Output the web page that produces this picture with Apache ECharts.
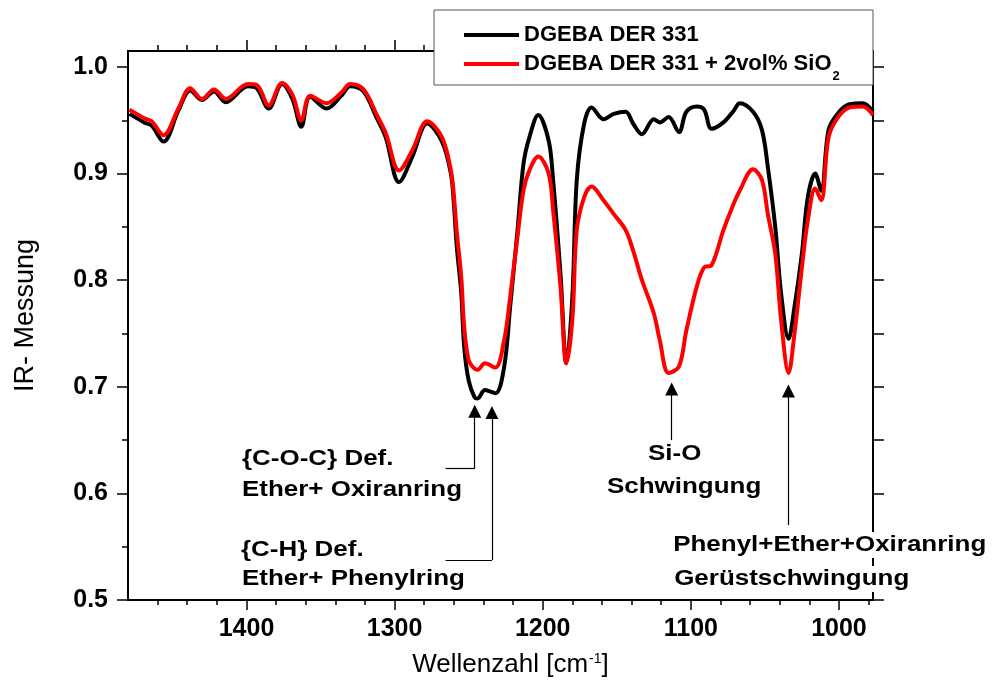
<!DOCTYPE html>
<html>
<head>
<meta charset="utf-8">
<script src="https://cdn.jsdelivr.net/npm/echarts@6/dist/echarts.min.js"></script>
<style>
  html, body { margin: 0; padding: 0; background: #fff; }
  #chart { width: 1001px; height: 686px; }
</style>
</head>
<body>
<div id="chart"></div>
<script>
// IR spectra (wavenumber in cm-1, high -> low)
const wavenumber = [1479, 1469, 1464, 1456, 1446, 1438, 1430, 1422, 1414, 1399,
  1393, 1385, 1376, 1369, 1363, 1357, 1346, 1336, 1330, 1321,
  1312, 1306, 1297, 1288, 1278, 1268, 1262, 1260, 1258, 1255,
  1253, 1250, 1246, 1244, 1239, 1232, 1226, 1222, 1217, 1213,
  1209, 1203, 1196, 1193, 1188, 1184, 1180, 1177, 1172, 1167,
  1159, 1152, 1144, 1139, 1133, 1125, 1121, 1115, 1108, 1103,
  1096, 1091, 1086, 1078, 1071, 1067, 1058, 1052, 1048, 1043,
  1039, 1034, 1030, 1025, 1021, 1016, 1012, 1007, 1001, 993,
  984, 977];

const derPure = [0.956, 0.948, 0.945, 0.930, 0.959, 0.978, 0.969, 0.977, 0.967, 0.982,
  0.980, 0.961, 0.984, 0.970, 0.944, 0.972, 0.961, 0.973, 0.982, 0.977,
  0.952, 0.934, 0.892, 0.916, 0.947, 0.930, 0.900, 0.872, 0.831, 0.788,
  0.737, 0.706, 0.690, 0.689, 0.697, 0.694, 0.719, 0.775, 0.847, 0.909,
  0.934, 0.955, 0.931, 0.894, 0.806, 0.722, 0.784, 0.894, 0.947, 0.962,
  0.951, 0.956, 0.958, 0.947, 0.937, 0.951, 0.948, 0.953, 0.939, 0.958,
  0.963, 0.960, 0.942, 0.948, 0.959, 0.966, 0.958, 0.941, 0.906, 0.850,
  0.787, 0.745, 0.775, 0.825, 0.878, 0.900, 0.884, 0.941, 0.956, 0.965,
  0.966, 0.958];

const derSiO2 = [0.960, 0.952, 0.949, 0.936, 0.961, 0.980, 0.970, 0.979, 0.970, 0.984,
  0.983, 0.964, 0.985, 0.974, 0.950, 0.973, 0.966, 0.976, 0.984, 0.979,
  0.955, 0.938, 0.903, 0.922, 0.949, 0.934, 0.903, 0.880, 0.845, 0.803,
  0.756, 0.725, 0.717, 0.716, 0.722, 0.718, 0.744, 0.784, 0.841, 0.884,
  0.903, 0.916, 0.900, 0.866, 0.794, 0.722, 0.763, 0.847, 0.878, 0.888,
  0.875, 0.862, 0.847, 0.828, 0.800, 0.769, 0.744, 0.713, 0.719, 0.753,
  0.794, 0.812, 0.814, 0.847, 0.872, 0.884, 0.904, 0.894, 0.862, 0.825,
  0.762, 0.713, 0.750, 0.812, 0.856, 0.886, 0.875, 0.934, 0.952, 0.962,
  0.963, 0.955];

const seriesNames = ['DGEBA DER 331', 'DGEBA DER 331 + 2vol% SiO2'];

// axis ranges and tick values
const xMin = 977, xMax = 1480;
const yMin = 0.5, yMax = 1.015;
const xTicks = [1400, 1300, 1200, 1100, 1000];
const xMinorTicks = [1460, 1440, 1420, 1380, 1360, 1340, 1320, 1280, 1260, 1240, 1220,
  1180, 1160, 1140, 1120, 1080, 1060, 1040, 1020, 980];
const yTicks = [0.5, 0.6, 0.7, 0.8, 0.9, 1.0];
const yMinorTicks = [0.55, 0.65, 0.75, 0.85, 0.95];

// annotation arrows in data coords: [fromW, fromV, toW, toV, arrowhead?]
const arrowSegments = [
  [1265.6, 0.6235, 1245.9, 0.6235, false],
  [1245.9, 0.6235, 1245.9, 0.6770, true],
  [1265.6, 0.5375, 1234.3, 0.5375, false],
  [1234.3, 0.5375, 1234.3, 0.6760, true],
  [1112.9, 0.650, 1112.9, 0.698, true],
  [1034.1, 0.5703, 1034.1, 0.696, true]
];

const FONT = "'Liberation Sans', Arial, sans-serif";

// ticks == null -> axis only carries the labels
function xAxisDef(position, ticks, tickLen, labels) {
  return {
    type: 'value', position: position, inverse: true, min: xMin, max: xMax,
    axisLine: { show: true, onZero: false, lineStyle: { color: '#000', width: 2 } },
    axisTick: ticks ? { show: true, inside: false, length: tickLen, customValues: ticks,
      lineStyle: { color: '#000', width: 1.5 } } : { show: false },
    axisLabel: labels ? {
      show: true, customValues: labels, margin: 17,
      formatter: v => String(v),
      color: '#000', fontFamily: FONT, fontSize: 25, fontWeight: 'bold'
    } : { show: false },
    splitLine: { show: false }
  };
}

function yAxisDef(position, ticks, tickLen, withLabel) {
  return {
    type: 'value', position: position, min: yMin, max: yMax,
    axisLine: { show: true, onZero: false, lineStyle: { color: '#000', width: 2 } },
    axisTick: { show: true, inside: false, length: tickLen, customValues: ticks,
      lineStyle: { color: '#000', width: 1.5 } },
    axisLabel: withLabel ? {
      show: true, customValues: ticks, margin: 20,
      formatter: v => v.toFixed(1),
      color: '#000', fontFamily: FONT, fontSize: 25, fontWeight: 'bold'
    } : { show: false },
    splitLine: { show: false }
  };
}

let xAxes = [
  xAxisDef('bottom', null, 0, xTicks),
  xAxisDef('bottom', xMinorTicks, 5, null),
  xAxisDef('bottom', xTicks, 10, null),
  xAxisDef('top', xTicks, 11, null),
  xAxisDef('top', xMinorTicks, 6, null)
];
xAxes[0].name = 'Wellenzahl [cm{sup|-1}]';
xAxes[0].nameLocation = 'middle';
xAxes[0].nameGap = 52;
xAxes[0].nameTextStyle = {
  color: '#000', fontFamily: FONT, fontSize: 26, padding: [0, 0, 0, 20],
  rich: { sup: { color: '#000', fontFamily: FONT, fontSize: 14, padding: [0, 0, 12, 1] } }
};

let yAxes = [
  yAxisDef('left', yTicks, 11, true),
  yAxisDef('left', yMinorTicks, 6, false),
  yAxisDef('right', yTicks.concat(yMinorTicks), 11, false)
];
yAxes[0].name = 'IR- Messung';
yAxes[0].nameLocation = 'middle';
yAxes[0].nameGap = 89;
yAxes[0].nameTextStyle = { color: '#000', fontFamily: FONT, fontSize: 27, padding: [0, 0, 0, 20] };

const annText = (text, x, y, bg) => ({
  type: 'text', x: x, y: y, scaleX: 1.18, z: 6,
  style: {
    text: text, fill: '#000', fontFamily: FONT, fontSize: 22, fontWeight: 'bold',
    align: 'left', verticalAlign: 'middle',
    backgroundColor: bg ? '#fff' : 'transparent', padding: bg ? [2, 1] : 0
  }
});

const legendText = {
  color: '#000', fontFamily: FONT, fontSize: 22, fontWeight: 'bold',
  rich: {
    b: { color: '#000', fontFamily: FONT, fontSize: 22, fontWeight: 'bold' },
    s: { color: '#000', fontFamily: FONT, fontSize: 13, fontWeight: 'bold', padding: [25, 0, 0, 1] }
  }
};

let option = {
  backgroundColor: '#fff',
  animation: false,
  grid: { left: 128, right: 128, top: 51, bottom: 86, containLabel: false, outerBoundsMode: 'none' },
  xAxis: xAxes,
  yAxis: yAxes,
  legend: [
    {
      data: [seriesNames[0]], left: 464, top: 24, padding: 0, orient: 'vertical',
      icon: 'rect', itemWidth: 55, itemHeight: 4, selectedMode: false, z: 8,
      textStyle: legendText
    },
    {
      data: [seriesNames[1]], left: 464, top: 53, padding: 0, orient: 'vertical',
      icon: 'rect', itemWidth: 55, itemHeight: 4, selectedMode: false, z: 8,
      formatter: () => '{b|DGEBA DER 331 + 2vol% SiO}{s|2}',
      textStyle: legendText
    }
  ],
  graphic: [
    { type: 'rect', z: 5, shape: { x: 434, y: 10, width: 439, height: 75 },
      style: { fill: '#fff', stroke: '#555', lineWidth: 1 } },
    annText('{C-O-C} Def.', 242, 459, false),
    annText('Ether+ Oxiranring', 242, 490, false),
    annText('{C-H} Def.', 241, 550, false),
    annText('Ether+ Phenylring', 242, 579, false),
    annText('Si-O', 648, 454, false),
    annText('Schwingung', 607, 487, false),
    annText('Phenyl+Ether+Oxiranring', 672, 545, true),
    annText('Gerüstschwingung', 673, 579, true)
  ],
  series: [
    {
      name: seriesNames[0], type: 'line', showSymbol: false, smooth: 0.35,
      lineStyle: { color: '#000', width: 4 }, itemStyle: { color: '#000' },
      data: wavenumber.map((w, i) => [w, derPure[i]])
    },
    {
      name: seriesNames[1], type: 'line', showSymbol: false, smooth: 0.35,
      lineStyle: { color: '#ff0000', width: 4 }, itemStyle: { color: '#ff0000' },
      data: wavenumber.map((w, i) => [w, derSiO2[i]]),
      markLine: {
        silent: true, animation: false,
        symbol: ['none', 'triangle'], symbolSize: 13,
        label: { show: false },
        lineStyle: { color: '#000', width: 1.2, type: 'solid' },
        emphasis: { disabled: true },
        data: arrowSegments.map(s => s[4]
          ? [{ coord: [s[0], s[1]] }, { coord: [s[2], s[3]] }]
          : [{ coord: [s[0], s[1]], symbol: 'none' }, { coord: [s[2], s[3]], symbol: 'none' }])
      }
    }
  ]
};

let chart = echarts.init(document.getElementById('chart'));
chart.setOption(option);
</script>
</body>
</html>
